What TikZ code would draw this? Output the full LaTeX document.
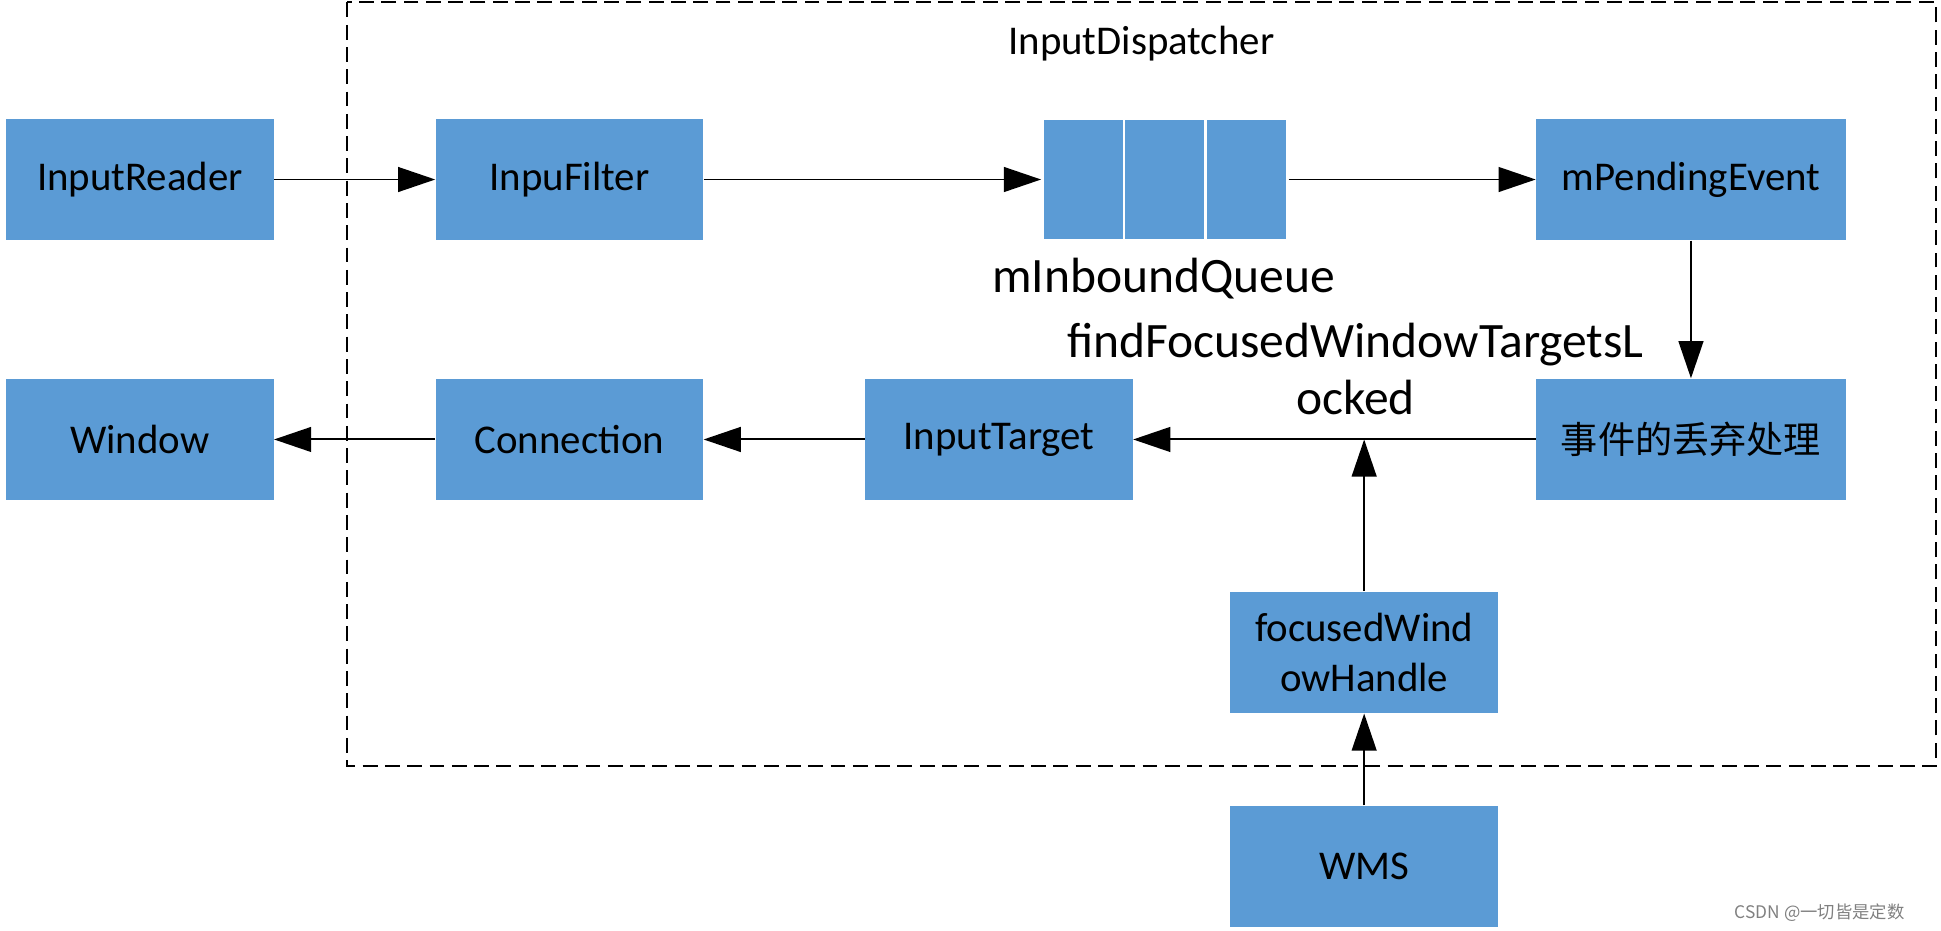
\documentclass[tikz,border=0pt]{standalone}
\usepackage{fontspec}
\setmainfont{Carlito}
\newfontfamily\cjk{Noto Sans CJK SC}
\usetikzlibrary{arrows.meta}
\definecolor{boxblue}{HTML}{5B9BD5}
\begin{document}
\begin{tikzpicture}[x=0.5pt,y=-0.5pt,
	blk/.style={fill=boxblue,minimum width=108pt,minimum height=49pt,inner sep=0pt,font=\fontsize{16.5}{20}\selectfont},
	arr/.style={-{Triangle[length=15pt,width=10pt]},line width=0.8pt}]
	\useasboundingbox (0,0) rectangle (1568,752);
	\draw[line width=0.8pt,dash pattern=on 6pt off 3pt] (280,2) rectangle (1564,619);
	\node[font=\fontsize{16.5}{20}\selectfont] (disp) at (922,35) {InputDispatcher};
	
	\node[blk] (reader) at (113,145) {InputReader};
	\node[blk] (filter) at (460,145) {InpuFilter};
	\foreach \i/\x in {1/875,2/941,3/1007}
	\node[blk,minimum width=33pt,draw=white,line width=1pt] (q\i) at (\x,145) {};
	\node[blk,minimum width=125pt] (pending) at (1366,145) {mPendingEvent};
	\node[blk] (window) at (113,355) {Window};
	\node[blk] (conn) at (460,355) {Connection};
	\node[blk] (target) at (807,355) {InputTarget};
	\node[blk,minimum width=125pt,font=\cjk\fontsize{15}{18}\selectfont] (drop) at (1366,355) {事件的丢弃处理};
	\node[blk,align=center] (handle) at (1102,527) {focusedWind\\owHandle};
	\node[blk] (wms) at (1102,700) {WMS};
	
	\node[font=\fontsize{20}{23}\selectfont] (queue) at (940,225) {mInboundQueue};
	\node[font=\fontsize{20}{23}\selectfont,align=center] (find) at (1095,298) {findFocusedWindowTargetsL\\ocked};
	\node[text=gray,font=\cjk\fontsize{7}{8}\selectfont] (mark) at (1470,737) {CSDN @一切皆是定数};
	
	\draw[arr] (reader) -- (filter);
	\draw[arr] (filter) -- (q1);
	\draw[arr] (q3) -- (pending);
	\draw[arr] (pending) -- (drop);
	\draw[arr] (drop) -- (target);
	\draw[arr] (target) -- (conn);
	\draw[arr] (conn) -- (window);
	\coordinate (join) at (handle.north |- drop.west);
	\draw[arr] (handle) -- (join);
	\draw[arr] (wms) -- (handle);
\end{tikzpicture}
\end{document}
